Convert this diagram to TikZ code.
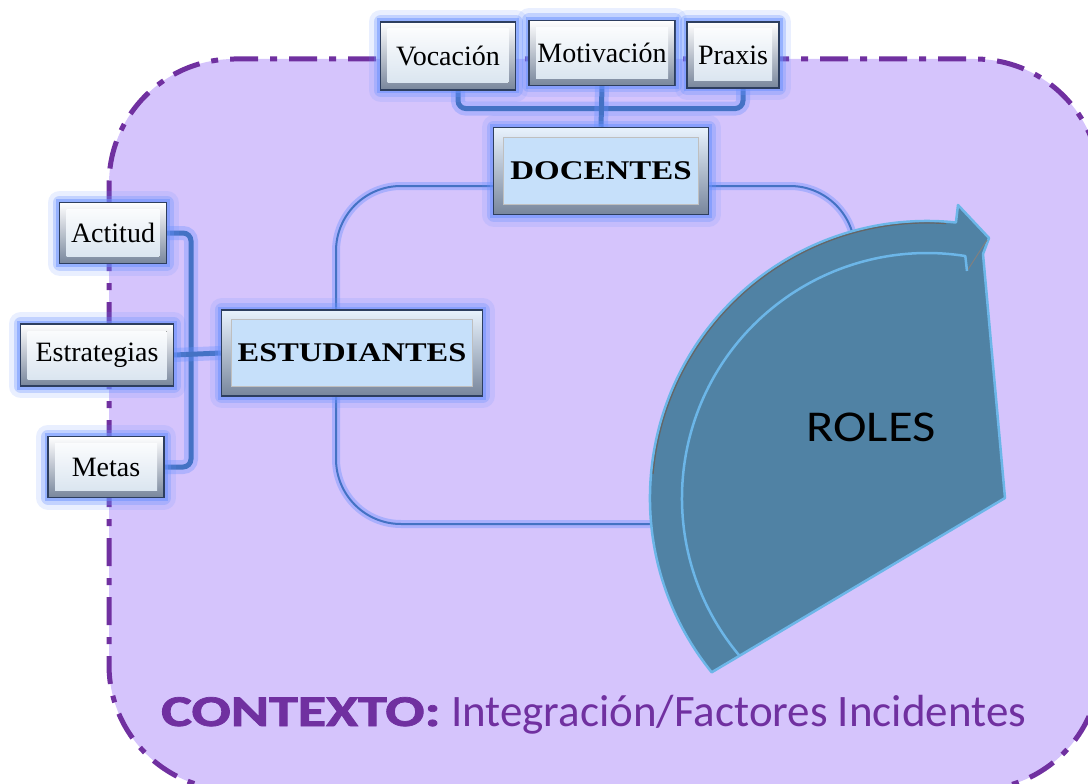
\documentclass[tikz,border=0pt]{standalone}
\usepackage{fontspec}
\usepackage{graphicx}
\setmainfont{Liberation Serif}
\newfontfamily\calfont{Carlito}

\definecolor{ctxfill}{RGB}{213,196,252}
\definecolor{ctxline}{RGB}{112,48,160}
\definecolor{glowblue}{RGB}{105,145,255}
\definecolor{connblue}{RGB}{68,114,196}
\definecolor{framedark}{RGB}{45,62,95}
\definecolor{beveldark}{RGB}{120,134,156}
\definecolor{faceplain}{RGB}{214,226,238}
\definecolor{faceblue}{RGB}{198,224,250}
\definecolor{rolesblue}{RGB}{80,130,164}
\definecolor{roleslight}{RGB}{108,182,232}

\pgfdeclarelayer{bg}
\pgfsetlayers{bg,main}

\def\bevel{7pt}

\begin{document}
\begin{tikzpicture}[x=1pt,y=-1pt]
\tikzstyle{glow}=[preaction={draw=glowblue,line width=24pt,opacity=.15,line join=round},
  preaction={draw=glowblue,line width=14pt,opacity=.3,line join=round},
  preaction={draw=glowblue,line width=7pt,opacity=.5}]
\tikzstyle{factor}=[rectangle,glow,draw=framedark,line width=1.2pt,inner sep=0pt,
  top color=white,bottom color=beveldark,font=\fontsize{28}{32}\selectfont,
  path picture={\fill[top color=white,bottom color=faceplain]
    ([shift={(\bevel,-\bevel)}]path picture bounding box.north west) rectangle
    ([shift={(-\bevel,\bevel)}]path picture bounding box.south east);}]
\tikzstyle{actor}=[rectangle,glow,draw=framedark,line width=1.5pt,inner sep=0pt,
  top color=faceblue!40!white,bottom color=beveldark,font=\bfseries\fontsize{27}{30}\selectfont,
  path picture={\fill[faceblue,draw=black!25,line width=1pt]
    ([shift={(1.4*\bevel,-1.4*\bevel)}]path picture bounding box.north west) rectangle
    ([shift={(-1.4*\bevel,1.4*\bevel)}]path picture bounding box.south east);}]
\tikzstyle{conn}=[connblue,line width=5pt,rounded corners=8pt,
  preaction={draw=glowblue,line width=14pt,opacity=.35,line cap=round}]
\tikzstyle{loopline}=[connblue,line width=2pt,rounded corners=65pt,
  preaction={draw=glowblue,line width=8pt,opacity=.4}]

\useasboundingbox (0,0) rectangle (1088,784);
\clip (0,0) rectangle (1088,784);

\begin{pgfonlayer}{bg}
% Draw the context area
\draw[ctxline,fill=ctxfill,line width=5pt,rounded corners=125pt,
  dash pattern=on 28pt off 12pt on 7pt off 12pt] (109,59) rectangle (1100,790);
% Draw the loop behind the actors
\draw[loopline] (336,186) rectangle (855,524);
\end{pgfonlayer}

% Draw the factor boxes
\foreach \name/\x/\y/\w/\h/\txt in {voc/448/56/135/68/Vocación,
    mot/602/53/146/65/Motivación, pra/733/55/92/66/Praxis,
    act/113/233/107/61/Actitud, est/97/355/153/62/Estrategias,
    met/106/467/116/61/Metas}
  \node[factor,minimum width=\w pt,minimum height=\h pt] (\name) at (\x,\y) {\txt};

% Draw the actor boxes
\node[actor,minimum width=215pt,minimum height=87pt] (doc) at (601,171)
  {\scalebox{1.22}[1]{DOCENTES}};
\node[actor,minimum width=261pt,minimum height=86pt] (stu) at (352,353)
  {\scalebox{1.2}[1]{ESTUDIANTES}};

% Connect the factors with the actors
\coordinate (lbar) at (191,0);
\begin{pgfonlayer}{bg}
\draw[conn] ([xshift=10pt]voc.south) -- ++(0,18) -| ([xshift=10pt]pra.south);
\draw[conn] (mot.south) -- (doc.north);
\draw[conn] (act.east) -| (lbar |- met.east) -- (met.east);
\draw[conn] (est.east) -- (stu.west);
\end{pgfonlayer}

% Draw the roles arrow
\fill[rolesblue,draw=roleslight,line width=2.5pt,line join=round]
  (711.7,672.3) arc[start angle=141,end angle=276,radius=277]
  -- (958,205) -- (989,238) -- (983,254) -- (1005,498) -- cycle;
\draw[black!60,line width=1.2pt] (653.05,474.03) arc[start angle=185,end angle=274,radius=275];
\draw[black!50,line width=1pt] (967,271) -- (987,240);
\draw[roleslight,line width=2.5pt,line join=round]
  (739.3,655.5) arc[start angle=140,end angle=279,radius=245] -- (967,271);
\node[font=\calfont\fontsize{44}{50}\selectfont] (roles) at (871,427)
  {\scalebox{1.15}[1]{ROLES}};

% Annotate the context
\node[anchor=base west,text=ctxline,inner sep=0pt,
  font=\calfont\bfseries\fontsize{44}{50}\selectfont\addfontfeature{FakeBold=1.6}]
  (ctx) at (161,726) {\scalebox{1.32}[1]{CONTEXTO:}};
\node[anchor=base west,text=ctxline,inner sep=0pt,font=\calfont\fontsize{45}{50}\selectfont]
  (inc) at (451,726) {Integración/Factores Incidentes};
\end{tikzpicture}
\end{document}
